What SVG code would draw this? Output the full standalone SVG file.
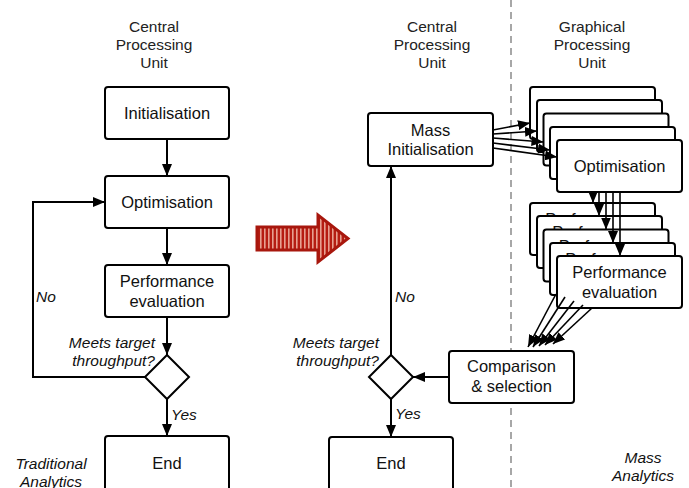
<svg xmlns="http://www.w3.org/2000/svg" width="689" height="488" viewBox="0 0 689 488">
<defs>
<style>
.box{fill:#fff;stroke:#000;stroke-width:2}
.t{font-family:"Liberation Sans",Arial,sans-serif;font-size:16.5px;fill:#111;text-anchor:middle}
.h{font-family:"Liberation Sans",Arial,sans-serif;font-size:15.5px;fill:#222;text-anchor:middle}
.i{font-family:"Liberation Sans",Arial,sans-serif;font-size:15.5px;fill:#111;font-style:italic}
.c{fill:none;stroke:#000;stroke-width:2}
.cf{fill:none;stroke:#000;stroke-width:1.6}
</style>
<marker id="ah" markerUnits="userSpaceOnUse" markerWidth="12" markerHeight="10" refX="12" refY="5" orient="auto">
<path d="M0,0 L12,5 L0,10 z" fill="#000"/>
</marker>
<pattern id="stripes" patternUnits="userSpaceOnUse" width="4" height="10">
<rect width="4" height="10" fill="#b51d12"/>
<rect x="0" width="1.6" height="10" fill="#e7a090"/>
</pattern>
</defs>

<!-- headers -->
<g id="hdr-cpu-left">
<text class="h" x="154" y="32">Central</text>
<text class="h" x="154" y="50">Processing</text>
<text class="h" x="154" y="68">Unit</text>
</g>
<g id="hdr-cpu-right">
<text class="h" x="432" y="32">Central</text>
<text class="h" x="432" y="50">Processing</text>
<text class="h" x="432" y="68">Unit</text>
</g>
<g id="hdr-gpu">
<text class="h" x="592" y="32">Graphical</text>
<text class="h" x="592" y="50">Processing</text>
<text class="h" x="592" y="68">Unit</text>
</g>

<line x1="511" y1="0" x2="511" y2="488" stroke="#8a8a8a" stroke-width="1.5" stroke-dasharray="7 5"/>

<!-- red arrow -->
<g id="transition-arrow">
<polygon points="257,227 318,227 318,215 348,238.5 318,262 318,250 257,250" fill="url(#stripes)" stroke="#a8170d" stroke-width="3" stroke-linejoin="miter"/>
</g>

<!-- left flow -->
<g id="init"><rect class="box" x="105" y="87" width="124" height="52" rx="3"/><text class="t" x="167" y="119">Initialisation</text></g>
<g id="opt"><rect class="box" x="105" y="176" width="124" height="52" rx="3"/><text class="t" x="167" y="208">Optimisation</text></g>
<g id="perf"><rect class="box" x="105" y="265" width="124" height="52" rx="3"/><text class="t" x="167" y="287">Performance</text><text class="t" x="167" y="307">evaluation</text></g>
<g id="dec-left"><polygon class="box" points="167,355 189,377 167,399 145,377"/></g>
<g id="end-left"><rect class="box" x="105" y="436" width="124" height="60" rx="3"/><text class="t" x="167" y="469">End</text></g>

<!-- right flow -->
<g id="mass-init"><rect class="box" x="368" y="113" width="125" height="53" rx="3"/><text class="t" x="430.5" y="136">Mass</text><text class="t" x="430.5" y="155">Initialisation</text></g>
<g id="opt-stack">
<rect class="box" x="530" y="87" width="125" height="52" rx="3"/><text class="t" x="592.5" y="119">Optimisation</text>
<rect class="box" x="537" y="100" width="125" height="52" rx="3"/><text class="t" x="599.5" y="132">Optimisation</text>
<rect class="box" x="543.5" y="113.5" width="125" height="52" rx="3"/><text class="t" x="606" y="145.5">Optimisation</text>
<rect class="box" x="550" y="127" width="125" height="52" rx="3"/><text class="t" x="612.5" y="159">Optimisation</text>
<rect class="box" x="557" y="140" width="125" height="52" rx="3"/><text class="t" x="619.5" y="172">Optimisation</text>
</g>
<g id="perf-stack">
<rect class="box" x="530" y="203" width="125" height="52" rx="3"/><text class="t" x="592.5" y="225">Performance</text><text class="t" x="592.5" y="245">evaluation</text>
<rect class="box" x="537" y="216" width="125" height="52" rx="3"/><text class="t" x="599.5" y="238">Performance</text><text class="t" x="599.5" y="258">evaluation</text>
<rect class="box" x="543.5" y="229.5" width="125" height="52" rx="3"/><text class="t" x="606" y="251.5">Performance</text><text class="t" x="606" y="271.5">evaluation</text>
<rect class="box" x="550" y="243" width="125" height="52" rx="3"/><text class="t" x="612.5" y="265">Performance</text><text class="t" x="612.5" y="285">evaluation</text>
<rect class="box" x="557" y="256" width="125" height="52" rx="3"/><text class="t" x="619.5" y="278">Performance</text><text class="t" x="619.5" y="298">evaluation</text>
</g>
<g id="compare"><rect class="box" x="449" y="351" width="125" height="52" rx="3"/><text class="t" x="511.5" y="372">Comparison</text><text class="t" x="511.5" y="392">&amp; selection</text></g>
<g id="dec-right"><polygon class="box" points="391,355 413,377 391,399 369,377"/></g>
<g id="end-right"><rect class="box" x="329" y="437" width="124" height="60" rx="3"/><text class="t" x="391" y="469">End</text></g>

<!-- connectors -->
<g id="connectors">
<line class="c" x1="167" y1="139" x2="167" y2="176" marker-end="url(#ah)"/>
<line class="c" x1="167" y1="228" x2="167" y2="265" marker-end="url(#ah)"/>
<line class="c" x1="167" y1="317" x2="167" y2="355" marker-end="url(#ah)"/>
<line class="c" x1="167" y1="399" x2="167" y2="436" marker-end="url(#ah)"/>
<path class="c" d="M145,377 H33 V202 H105" marker-end="url(#ah)"/>

<line class="c" x1="449" y1="377" x2="413" y2="377" marker-end="url(#ah)"/>
<line class="c" x1="391" y1="399" x2="391" y2="437" marker-end="url(#ah)"/>
<line class="c" x1="391" y1="355" x2="391" y2="166" marker-end="url(#ah)"/>

<line class="cf" x1="493" y1="130" x2="530" y2="123" marker-end="url(#ah)"/>
<line class="cf" x1="493" y1="134" x2="537" y2="131" marker-end="url(#ah)"/>
<line class="cf" x1="493" y1="138" x2="543.5" y2="142" marker-end="url(#ah)"/>
<line class="cf" x1="493" y1="143" x2="550" y2="150" marker-end="url(#ah)"/>
<line class="cf" x1="493" y1="148" x2="557" y2="157" marker-end="url(#ah)"/>

<line class="cf" x1="593" y1="192" x2="593" y2="203" marker-end="url(#ah)"/>
<line class="cf" x1="599" y1="192" x2="599" y2="216" marker-end="url(#ah)"/>
<line class="cf" x1="606" y1="192" x2="606" y2="229.5" marker-end="url(#ah)"/>
<line class="cf" x1="613" y1="192" x2="613" y2="243" marker-end="url(#ah)"/>
<line class="cf" x1="620" y1="192" x2="620" y2="256" marker-end="url(#ah)"/>

<line class="cf" x1="556" y1="294" x2="528" y2="347" marker-end="url(#ah)"/>
<line class="cf" x1="565" y1="297" x2="533" y2="347" marker-end="url(#ah)"/>
<line class="cf" x1="574" y1="301" x2="539" y2="346" marker-end="url(#ah)"/>
<line class="cf" x1="583" y1="305" x2="545" y2="345" marker-end="url(#ah)"/>
<line class="cf" x1="592" y1="308" x2="553" y2="344" marker-end="url(#ah)"/>
</g>

<!-- labels -->
<g id="labels">
<text class="i" x="155" y="348" text-anchor="end">Meets target</text>
<text class="i" x="155" y="366" text-anchor="end">throughput?</text>
<text class="i" x="36" y="302">No</text>
<text class="i" x="171" y="420">Yes</text>
<text class="i" x="379" y="348" text-anchor="end">Meets target</text>
<text class="i" x="379" y="366" text-anchor="end">throughput?</text>
<text class="i" x="395" y="302">No</text>
<text class="i" x="395" y="419">Yes</text>
<text class="i" x="51" y="469" text-anchor="middle">Traditional</text>
<text class="i" x="51" y="487" text-anchor="middle">Analytics</text>
<text class="i" x="643" y="463" text-anchor="middle">Mass</text>
<text class="i" x="643" y="481" text-anchor="middle">Analytics</text>
</g>
</svg>
